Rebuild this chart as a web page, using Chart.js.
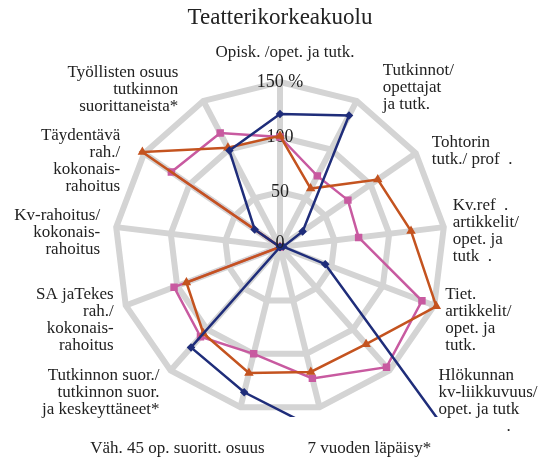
<!DOCTYPE html>
<html>
<head>
<meta charset="utf-8">
<script src="https://cdn.jsdelivr.net/npm/chart.js@4/dist/chart.umd.min.js"></script>
<style>
  body { margin: 0; background: #fff; }
  #wrap { width: 544px; height: 464px; }
</style>
</head>
<body>
<div id="wrap"><canvas id="radar" width="544" height="464"></canvas></div>
<script>
// Axis labels (clockwise from top)
const axisLabels = [
  ['Opisk. /opet. ja tutk.'],
  ['Tutkinnot/', 'opettajat', 'ja tutk.'],
  ['Tohtorin', 'tutk./ prof  .'],
  ['Kv.ref  .', 'artikkelit/', 'opet. ja', 'tutk  .'],
  ['Tiet.', 'artikkelit/', 'opet. ja', 'tutk.'],
  ['Hlökunnan', 'kv-liikkuvuus/', 'opet. ja tutk', '                .'],
  ['7 vuoden läpäisy*'],
  ['Väh. 45 op. suoritt. osuus'],
  ['Tutkinnon suor./', 'tutkinnon suor.', 'ja keskeyttäneet*'],
  ['SA jaTekes', 'rah./', 'kokonais-', 'rahoitus'],
  ['Kv-rahoitus/', 'kokonais-', 'rahoitus'],
  ['Täydentävä', 'rah./', 'kokonais-', 'rahoitus'],
  ['Työllisten osuus', 'tutkinnon', 'suorittaneista*']
];

// Series values (%)
const navyValues = [121, 135, 25, 3, 44, 250, 175, 136, 122, 0, 0, 28, 99];
const orangeValues = [101, 60, 108, 120, 152, 118, 117, 118, 105, 91, 0, 152, 102];
const pinkValues = [100, 73, 75, 72, 138, 146, 123, 100, 109, 103, 0, 120, 117];

// Scale ticks
const tickMax = 150;
const tickStep = 50;

// Label nudges from the outer vertex [dx, dy]
const labelOffsets = [
  [5, -29], [26, -13], [16, -2], [9, 4], [11, 15], [49, 31], [-12, 41],
  [24, 41], [-11, 22], [-12, 15], [-16, 5], [-24, 8], [-25, -11]
];

const FONT = '"Liberation Serif", "Times New Roman", serif';
const TEXT = '#222';
const GRID = '#d4d4d4';

// Draw axis labels like the original (vertically centred, beside the vertex)
const axisLabelPlugin = {
  id: 'axisLabels',
  afterDraw(chart) {
    const scale = chart.scales.r;
    const ctx = chart.ctx;
    const lh = 17;
    ctx.save();
    ctx.font = '17px ' + FONT;
    ctx.fillStyle = TEXT;
    ctx.textBaseline = 'middle';
    axisLabels.forEach((lines, i) => {
      const p = scale.getPointPosition(i, scale.drawingArea);
      let align = 'center';
      if (i !== 0) align = p.x > scale.xCenter ? 'left' : 'right';
      ctx.textAlign = align;
      const x = p.x + labelOffsets[i][0];
      const yc = p.y + labelOffsets[i][1];
      const y0 = yc - (lines.length - 1) * lh / 2;
      lines.forEach((line, j) => ctx.fillText(line, x, y0 + j * lh));
    });
    // zero tick is skipped by the scale, draw it at the centre
    ctx.font = '18px ' + FONT;
    ctx.textAlign = 'center';
    ctx.fillText('0', scale.xCenter, scale.yCenter - 4);
    ctx.restore();
  }
};

const clipBottom = { left: false, top: false, right: false, bottom: -4 };

new Chart(document.getElementById('radar'), {
  type: 'radar',
  data: {
    labels: axisLabels,
    datasets: [
      {
        label: 'navy',
        data: navyValues,
        borderColor: '#1f2d7a',
        backgroundColor: '#1f2d7a',
        pointBackgroundColor: '#1f2d7a',
        borderWidth: 2.5,
        pointStyle: 'rectRot',
        pointRadius: 2.5,
        fill: false,
        clip: clipBottom
      },
      {
        label: 'orange',
        data: orangeValues,
        borderColor: '#c4531f',
        backgroundColor: '#c4531f',
        pointBackgroundColor: '#c4531f',
        borderWidth: 2.5,
        pointStyle: 'triangle',
        pointRadius: 3,
        fill: false,
        clip: clipBottom
      },
      {
        label: 'pink',
        data: pinkValues,
        borderColor: '#c85aa0',
        backgroundColor: '#c85aa0',
        pointBackgroundColor: '#c85aa0',
        borderWidth: 2.5,
        pointStyle: 'rect',
        pointRadius: 3.5,
        fill: false,
        clip: clipBottom
      }
    ]
  },
  options: {
    responsive: false,
    animation: false,
    layout: { padding: { left: 20, right: 4, top: 0, bottom: 43 } },
    elements: { line: { tension: 0 } },
    scales: {
      r: {
        min: 0,
        max: tickMax,
        beginAtZero: true,
        grid: { color: GRID, lineWidth: 6, circular: false },
        angleLines: { color: GRID, lineWidth: 6 },
        pointLabels: { display: false },
        ticks: {
          stepSize: tickStep,
          showLabelBackdrop: false,
          backdropPadding: 0,
          color: TEXT,
          font: { family: FONT, size: 18 },
          callback: (v) => v === tickMax ? v + ' %' : v
        }
      }
    },
    plugins: {
      legend: { display: false },
      tooltip: { enabled: false },
      title: {
        display: true,
        text: 'Teatterikorkeakuolu',
        color: TEXT,
        font: { family: FONT, size: 23, weight: 'normal', lineHeight: '24px' },
        padding: { top: 6, bottom: 43 }
      }
    }
  },
  plugins: [axisLabelPlugin]
});
</script>
</body>
</html>
